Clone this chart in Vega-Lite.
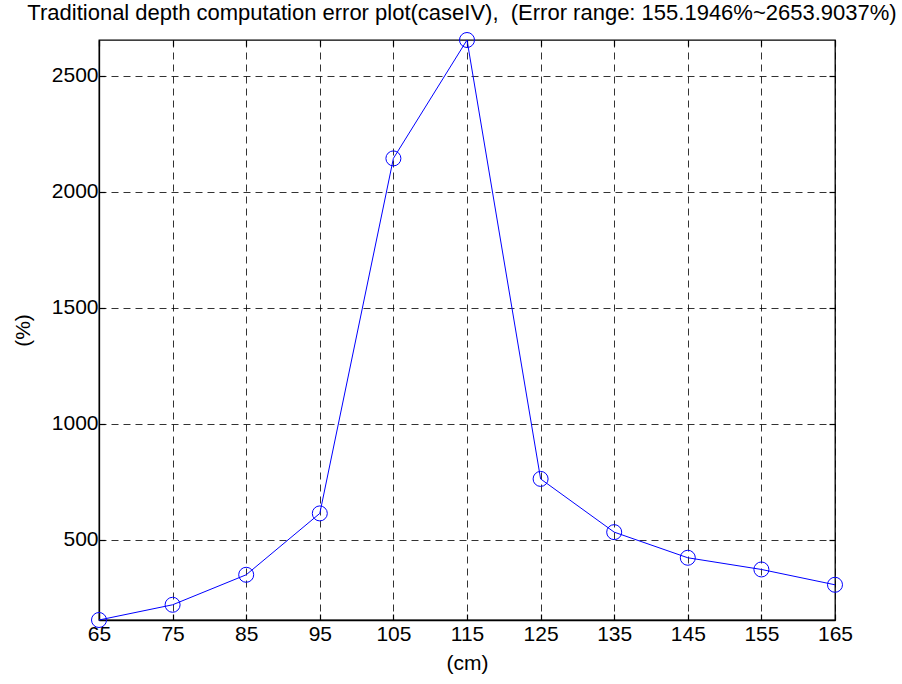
{
  "$schema": "https://vega.github.io/schema/vega-lite/v6.json",
  "width": 736,
  "height": 580,
  "autosize": {"type": "none"},
  "padding": {"left": 99, "top": 40, "right": 67, "bottom": 64},
  "background": "white",
  "config": {"view": {"stroke": "#000", "strokeWidth": 1.3}, "font": "Liberation Sans"},
  "title": {
    "text": "Traditional depth computation error plot(caseIV),\u00a0 (Error range: 155.1946%~2653.9037%)",
    "fontSize": 22,
    "fontWeight": "normal",
    "font": "Liberation Sans",
    "color": "#000",
    "anchor": "middle",
    "offset": 6,
    "dx": -5
  },
  "data": {
    "values": [
      {"depth": 65, "error": 155.1946},
      {"depth": 75, "error": 220.7},
      {"depth": 85, "error": 350.0},
      {"depth": 95, "error": 614.4},
      {"depth": 105, "error": 2143.8},
      {"depth": 115, "error": 2653.9037},
      {"depth": 125, "error": 763.0},
      {"depth": 135, "error": 533.7},
      {"depth": 145, "error": 423.3},
      {"depth": 155, "error": 372.9},
      {"depth": 165, "error": 306.9}
    ]
  },
  "resolve": {"axis": {"x": "independent", "y": "independent"}},
  "layer": [
    {
      "mark": {"type": "line", "color": "#0000ff", "strokeWidth": 1},
      "encoding": {
        "x": {
          "field": "depth",
          "type": "quantitative",
          "scale": {"domain": [65, 165], "nice": false, "zero": false},
          "axis": {
            "values": [65, 75, 85, 95, 105, 115, 125, 135, 145, 155, 165],
            "grid": true,
            "gridDash": [7, 5],
            "gridColor": "#000",
            "gridOpacity": 0.8,
            "gridWidth": 1,
            "ticks": true,
            "tickSize": -6,
            "tickColor": "#000",
            "tickWidth": 1.2,
            "labelPadding": 9,
            "labelFontSize": 21,
            "labelColor": "#000",
            "labelFont": "Liberation Sans",
            "labelFlush": false,
            "domainColor": "#000",
            "domainWidth": 1.3,
            "title": "(cm)",
            "titleFontSize": 21,
            "titleFontWeight": "normal",
            "titleFont": "Liberation Sans",
            "titleColor": "#000",
            "titlePadding": 8
          }
        },
        "y": {
          "field": "error",
          "type": "quantitative",
          "scale": {"domain": [155.1946, 2653.9037], "nice": false, "zero": false},
          "axis": {
            "values": [500, 1000, 1500, 2000, 2500],
            "format": "d",
            "grid": true,
            "gridDash": [7, 5],
            "gridColor": "#000",
            "gridOpacity": 0.8,
            "gridWidth": 1,
            "ticks": true,
            "tickSize": -6,
            "tickColor": "#000",
            "tickWidth": 1.2,
            "labelPadding": 7,
            "labelFontSize": 21,
            "labelColor": "#000",
            "labelFont": "Liberation Sans",
            "labelFlush": false,
            "domainColor": "#000",
            "domainWidth": 1.3,
            "title": "(%)",
            "titleFontSize": 21,
            "titleFontWeight": "normal",
            "titleFont": "Liberation Sans",
            "titleColor": "#000",
            "titlePadding": 18
          }
        }
      }
    },
    {
      "mark": {"type": "point", "shape": "circle", "filled": false, "color": "#0000ff", "size": 225, "strokeWidth": 1, "opacity": 1},
      "encoding": {
        "x": {
          "field": "depth",
          "type": "quantitative",
          "axis": {
            "orient": "top",
            "values": [65, 75, 85, 95, 105, 115, 125, 135, 145, 155, 165],
            "grid": false,
            "labels": false,
            "domain": false,
            "ticks": true,
            "tickSize": -6,
            "tickColor": "#000",
            "tickWidth": 1.2,
            "title": null
          }
        },
        "y": {
          "field": "error",
          "type": "quantitative",
          "axis": {
            "orient": "right",
            "values": [500, 1000, 1500, 2000, 2500],
            "grid": false,
            "labels": false,
            "domain": false,
            "ticks": true,
            "tickSize": -6,
            "tickColor": "#000",
            "tickWidth": 1.2,
            "title": null
          }
        }
      }
    }
  ]
}
